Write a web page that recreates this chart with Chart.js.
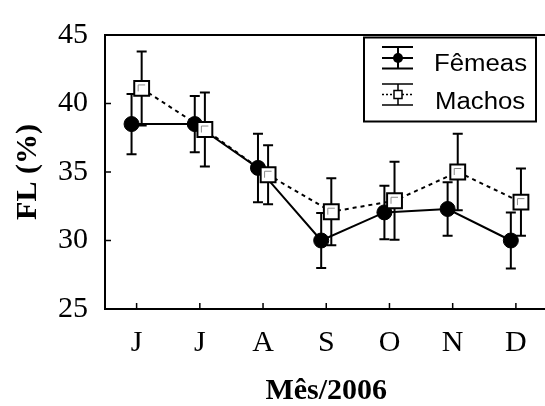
<!DOCTYPE html>
<html>
<head>
<meta charset="utf-8">
<script src="https://cdn.jsdelivr.net/npm/chart.js@4"></script>
<style>
  html, body { margin: 0; padding: 0; background: #fff; overflow: hidden; width: 545px; height: 406px; }
  #wrap { position: relative; width: 560px; height: 406px; }
</style>
</head>
<body>
<div id="wrap"><canvas id="flChart"></canvas></div>
<script>
// Values
const months = ['J', 'J', 'A', 'S', 'O', 'N', 'D'];
const femeas = [38.5, 38.5, 35.3, 30.0, 32.05, 32.3, 30.0];
const femeasErr = [2.2, 2.05, 2.5, 2.0, 1.95, 1.95, 2.05];
const machos = [41.1, 38.1, 34.8, 32.1, 32.9, 35.0, 32.8];
const machosErr = [2.7, 2.7, 2.15, 2.45, 2.85, 2.8, 2.45];
const yTicks = [25, 30, 35, 40, 45];

const serif = "'Liberation Serif', 'Times New Roman', serif";
const sans = "'Liberation Sans', Arial, sans-serif";
const shift = 0.08; // small sideways shift so the two series don't overlap

// Error bars, drawn under the markers
const errorBars = {
    id: 'errorBars',
    beforeDatasetsDraw(chart) {
        const ctx = chart.ctx;
        const yScale = chart.scales.y;
        ctx.save();
        ctx.strokeStyle = '#000';
        ctx.lineWidth = 2;
        chart.data.datasets.forEach((ds, di) => {
            const meta = chart.getDatasetMeta(di);
            meta.data.forEach((pt, i) => {
                const v = ds.data[i].y;
                const top = yScale.getPixelForValue(v + ds.errors[i]);
                const bot = yScale.getPixelForValue(v - ds.errors[i]);
                ctx.beginPath();
                ctx.moveTo(pt.x, top); ctx.lineTo(pt.x, bot);
                ctx.moveTo(pt.x - 5, top); ctx.lineTo(pt.x + 5, top);
                ctx.moveTo(pt.x - 5, bot); ctx.lineTo(pt.x + 5, bot);
                ctx.stroke();
            });
        });
        ctx.restore();
    },
    afterDatasetsDraw(chart) {
        // little grey corner inside the open squares
        const ctx = chart.ctx;
        const meta = chart.getDatasetMeta(1);
        ctx.save();
        ctx.strokeStyle = '#8a8a8a';
        ctx.lineWidth = 1;
        meta.data.forEach(pt => {
            ctx.beginPath();
            ctx.moveTo(pt.x - 3.5, pt.y + 3);
            ctx.lineTo(pt.x - 3.5, pt.y - 3.5);
            ctx.lineTo(pt.x + 3.5, pt.y - 3.5);
            ctx.stroke();
        });
        ctx.restore();
    }
};

// Top frame line and inward tick marks
const frame = {
    id: 'frame',
    afterDraw(chart) {
        const ctx = chart.ctx;
        const { left, right, top, bottom } = chart.chartArea;
        ctx.save();
        ctx.strokeStyle = '#000';
        ctx.lineWidth = 2;
        ctx.beginPath();
        ctx.moveTo(left - 1, top); ctx.lineTo(right, top);
        ctx.stroke();
        ctx.lineWidth = 1.5;
        ctx.beginPath();
        yTicks.forEach(t => {
            const py = chart.scales.y.getPixelForValue(t);
            ctx.moveTo(left, py); ctx.lineTo(left + 6, py);
        });
        months.forEach((m, i) => {
            const px = chart.scales.x.getPixelForValue(i);
            ctx.moveTo(px, bottom); ctx.lineTo(px, bottom - 6);
        });
        ctx.stroke();
        ctx.restore();
    }
};

// Legend box with error-bar symbols
function stretchedText(ctx, text, x, y) {
    ctx.save();
    ctx.translate(x, y);
    ctx.scale(1.12, 1);
    ctx.fillText(text, 0, 0);
    ctx.restore();
}

const legendBox = {
    id: 'legendBox',
    afterDraw(chart) {
        const ctx = chart.ctx;
        ctx.save();
        ctx.strokeStyle = '#000';
        ctx.fillStyle = '#000';
        ctx.lineWidth = 2;
        ctx.strokeRect(364, 37.5, 172, 84);

        // Fêmeas symbol
        ctx.beginPath();
        ctx.moveTo(382, 47); ctx.lineTo(413, 47);
        ctx.moveTo(382, 58); ctx.lineTo(413, 58);
        ctx.moveTo(382, 68.5); ctx.lineTo(413, 68.5);
        ctx.moveTo(398, 47); ctx.lineTo(398, 68.5);
        ctx.stroke();
        ctx.beginPath();
        ctx.arc(398, 58, 5, 0, Math.PI * 2);
        ctx.fill();

        // Machos symbol
        ctx.lineWidth = 1.5;
        ctx.beginPath();
        ctx.moveTo(382, 84); ctx.lineTo(413, 84);
        ctx.moveTo(382, 105); ctx.lineTo(413, 105);
        ctx.moveTo(398, 84); ctx.lineTo(398, 105);
        ctx.stroke();
        ctx.setLineDash([2, 2]);
        ctx.beginPath();
        ctx.moveTo(382, 94.5); ctx.lineTo(413, 94.5);
        ctx.stroke();
        ctx.setLineDash([]);
        ctx.fillStyle = '#fff';
        ctx.fillRect(394, 90.5, 8, 8);
        ctx.strokeRect(394, 90.5, 8, 8);

        ctx.fillStyle = '#000';
        ctx.font = '23px ' + sans;
        ctx.textBaseline = 'alphabetic';
        ctx.textAlign = 'left';
        stretchedText(ctx, chart.data.datasets[0].label, 434, 70.5);
        stretchedText(ctx, chart.data.datasets[1].label, 435, 108.5);
        ctx.restore();
    }
};

const ctx = document.getElementById('flChart').getContext('2d');
new Chart(ctx, {
    type: 'line',
    data: {
        datasets: [{
            label: 'Fêmeas',
            data: femeas.map((v, i) => ({ x: i - shift, y: v })),
            errors: femeasErr,
            borderColor: '#000',
            borderWidth: 2,
            pointStyle: 'circle',
            pointRadius: 7.5,
            pointBorderWidth: 1,
            pointBackgroundColor: '#000',
            pointBorderColor: '#000',
            tension: 0,
            order: 2
        }, {
            label: 'Machos',
            data: machos.map((v, i) => ({ x: i + shift, y: v })),
            errors: machosErr,
            borderColor: '#000',
            borderWidth: 2,
            borderDash: [4, 4],
            pointStyle: 'rect',
            pointRadius: 10.5,
            pointBorderWidth: 2,
            pointBackgroundColor: '#fff',
            pointBorderColor: '#000',
            tension: 0,
            order: 1
        }]
    },
    options: {
        responsive: true,
        maintainAspectRatio: false,
        animation: false,
        devicePixelRatio: 1,
        layout: { padding: { top: 29, right: 9, left: 0, bottom: 0 } },
        plugins: {
            legend: { display: false },
            tooltip: { enabled: false }
        },
        scales: {
            x: {
                type: 'linear',
                min: -0.5,
                max: months.length - 0.5,
                afterBuildTicks: scale => { scale.ticks = months.map((m, i) => ({ value: i })); },
                afterFit: scale => { scale.height = 97; },
                grid: { display: false, drawTicks: false },
                border: { display: true, color: '#000', width: 2 },
                ticks: {
                    color: '#000',
                    padding: 16,
                    maxRotation: 0,
                    autoSkip: false,
                    font: { family: serif, size: 30 },
                    callback: v => months[v]
                },
                title: {
                    display: true,
                    text: 'Mês/2006',
                    color: '#000',
                    padding: { top: 0, bottom: 0 },
                    font: { family: serif, size: 30, weight: 'bold', lineHeight: 1 }
                }
            },
            y: {
                min: 25,
                max: 45,
                afterBuildTicks: scale => { scale.ticks = yTicks.map(v => ({ value: v })); },
                afterFit: scale => { scale.width = 105; },
                grid: { display: false, drawTicks: false },
                border: { display: true, color: '#000', width: 2 },
                ticks: {
                    color: '#000',
                    padding: 17,
                    font: { family: serif, size: 30 }
                },
                title: {
                    display: true,
                    text: 'FL (%)',
                    color: '#000',
                    padding: { top: 13, bottom: 0 },
                    font: { family: serif, size: 30, weight: 'bold', lineHeight: 1 }
                }
            }
        }
    },
    plugins: [errorBars, frame, legendBox]
});
</script>
</body>
</html>
